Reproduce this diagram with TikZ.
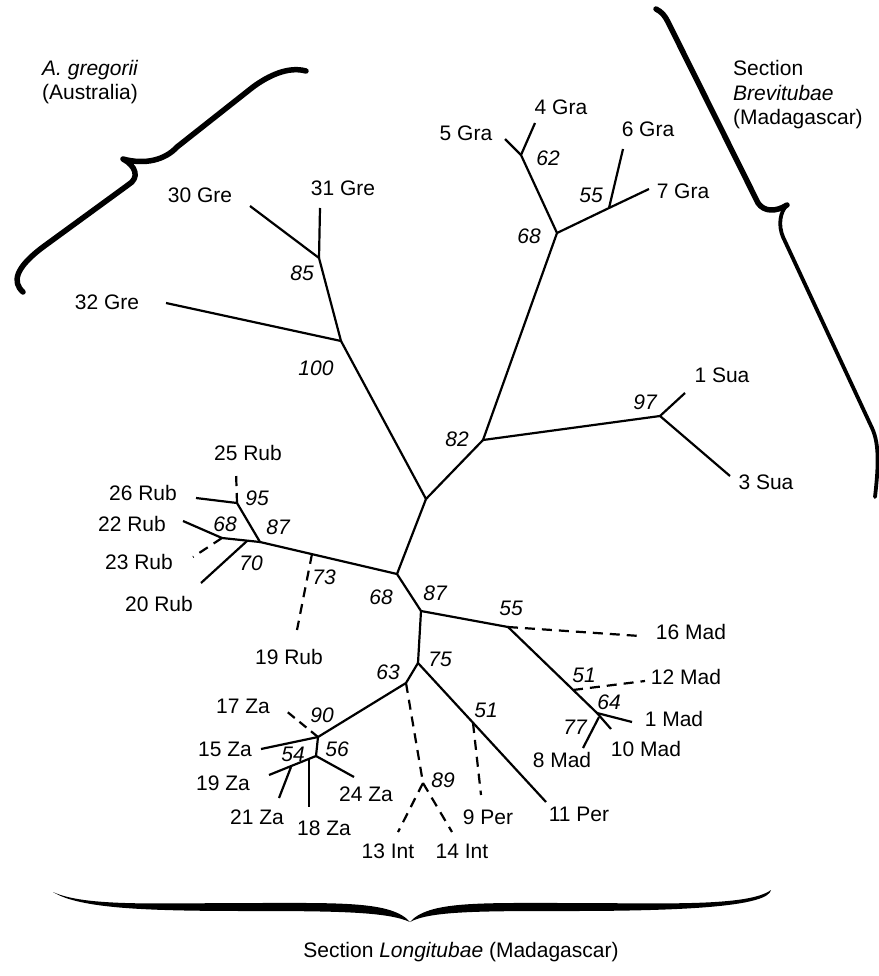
\documentclass[tikz,border=0pt]{standalone}
\usepackage{fontspec}
\setmainfont{Liberation Sans}
\newcommand\labfont{\fontsize{21}{25}\selectfont}
\begin{document}
\begin{tikzpicture}[x=1pt,y=-1pt,
  br/.style={line width=2.2pt},
  db/.style={line width=2.2pt, dash pattern=on 10pt off 7pt},
  lab/.style={font=\labfont, inner sep=0pt, text height=15pt, text depth=0pt},
  bs/.style={lab, font=\labfont\itshape},
  bracepath/.style={line width=5.5pt, line cap=round, line join=round}]
\useasboundingbox (0,0) rectangle (878,976);
% ---- coordinates of tree nodes
\coordinate (c) at (426,499);
\coordinate (n100) at (341,341);
\coordinate (n85) at (319,258);
\coordinate (t30) at (250,206);
\coordinate (t31) at (320,208);
\coordinate (t32) at (166,303);
\coordinate (n82) at (483,440);
\coordinate (n68g) at (557,233);
\coordinate (n62) at (521,155);
\coordinate (t4) at (535,123);
\coordinate (t5) at (505,139);
\coordinate (n55g) at (609,208);
\coordinate (t6) at (623,149);
\coordinate (t7) at (649,189);
\coordinate (n97) at (660,416);
\coordinate (t1s) at (685,393);
\coordinate (t3s) at (730,476);
\coordinate (n68) at (397,574);
\coordinate (n87r) at (260,542);
\coordinate (n73) at (312,554);
\coordinate (t19r) at (297,630);
\coordinate (n95) at (237,503);
\coordinate (t25) at (236,471);
\coordinate (t26) at (196,498);
\coordinate (n70) at (247,541);
\coordinate (n68r) at (222,538);
\coordinate (t22) at (183,521);
\coordinate (t23) at (193,557);
\coordinate (t20) at (201,583);
\coordinate (n87) at (421,611);
\coordinate (n55m) at (508,627);
\coordinate (t16) at (640,636);
\coordinate (n64) at (597,713);
\coordinate (n51m) at (573,690);
\coordinate (t12) at (645,681);
\coordinate (t1m) at (632,722);
\coordinate (t10) at (611,729);
\coordinate (n77) at (599,717);
\coordinate (t8) at (583,748);
\coordinate (n75) at (418,663);
\coordinate (n51p) at (473,723);
\coordinate (t11) at (546,802);
\coordinate (t9) at (481,795);
\coordinate (n63) at (406,683);
\coordinate (n89) at (423,783);
\coordinate (t13) at (398,832);
\coordinate (t14) at (452,832);
\coordinate (n90) at (318,737);
\coordinate (t15) at (261,749);
\coordinate (t17) at (285,710);
\coordinate (n56) at (316,756);
\coordinate (t24) at (354,777);
\coordinate (pA) at (309,759);
\coordinate (t18) at (309,807);
\coordinate (n54) at (291,767);
\coordinate (t19z) at (269,775);
\coordinate (t21) at (279,798);
% ---- solid branches
\draw[br] (c) -- (n100) -- (n85) -- (t30);
\draw[br] (n85) -- (t31);
\draw[br] (n100) -- (t32);
\draw[br] (c) -- (n82) -- (n68g) -- (n62) -- (t4);
\draw[br] (n62) -- (t5);
\draw[br] (n68g) -- (n55g) -- (t6);
\draw[br] (n55g) -- (t7);
\draw[br] (n82) -- (n97) -- (t1s);
\draw[br] (n97) -- (t3s);
\draw[br] (c) -- (n68) -- (n87r) -- (n95) -- (t26);
\draw[br] (n87r) -- (n68r) -- (t22);
\draw[br] (n70) -- (t20);
\draw[br] (n68) -- (n87) -- (n55m) -- (n64) -- (t1m);
\draw[br] (n64) -- (t10);
\draw[br] (n77) -- (t8);
\draw[br] (n87) -- (n75) -- (t11);
\draw[br] (n75) -- (n63) -- (n90) -- (t15);
\draw[br] (n90) -- (n56) -- (t19z);
\draw[br] (pA) -- (t18);
\draw[br] (n54) -- (t21);
\draw[br] (n56) -- (t24);
% ---- dashed branches
\draw[db] (n95) -- (t25);
\draw[db] (n68r) -- (t23);
\draw[db] (n73) -- (t19r);
\draw[db] (n55m) -- (t16);
\draw[db] (n51m) -- (t12);
\draw[db] (n51p) -- (t9);
\draw[db] (n63) -- (n89);
\draw[db] (n89) -- (t13);
\draw[db] (n89) -- (t14);
\draw[br, dash pattern=on 9pt off 6pt] (n90) -- (t17);
% ---- leaf labels
\node[lab] (l30) at (200,195) {30 Gre};
\node[lab] (l31) at (343,188) {31 Gre};
\node[lab] (l32) at (107,302) {32 Gre};
\node[lab] (l4) at (561,107) {4 Gra};
\node[lab] (l5) at (466,133) {5 Gra};
\node[lab] (l6) at (648,129) {6 Gra};
\node[lab] (l7) at (683,191) {7 Gra};
\node[lab] (l1s) at (722,375) {1 Sua};
\node[lab] (l3s) at (766,482) {3 Sua};
\node[lab] (l25) at (248,453) {25 Rub};
\node[lab] (l26) at (143,493) {26 Rub};
\node[lab] (l22) at (132,524) {22 Rub};
\node[lab] (l23) at (139,562) {23 Rub};
\node[lab] (l20) at (159,604) {20 Rub};
\node[lab] (l19r) at (289,657) {19 Rub};
\node[lab] (l16) at (691,632) {16 Mad};
\node[lab] (l12) at (686,677) {12 Mad};
\node[lab] (l1m) at (674,719) {1 Mad};
\node[lab] (l10) at (646,749) {10 Mad};
\node[lab] (l8) at (562,760) {8 Mad};
\node[lab] (l9) at (488,817) {9 Per};
\node[lab] (l11) at (579,814) {11 Per};
\node[lab] (l13) at (388,851) {13 Int};
\node[lab] (l14) at (462,851) {14 Int};
\node[lab] (l17) at (243,706) {17 Za};
\node[lab] (l15) at (225,749) {15 Za};
\node[lab] (l19z) at (223,783) {19 Za};
\node[lab] (l24) at (366,794) {24 Za};
\node[lab] (l21) at (257,817) {21 Za};
\node[lab] (l18) at (324,828) {18 Za};
% ---- bootstrap values
\node[bs] (b85) at (302,273) {85};
\node[bs] (b100) at (316,368) {100};
\node[bs] (b62) at (548,158) {62};
\node[bs] (b55g) at (591,195) {55};
\node[bs] (b68g) at (529,236) {68};
\node[bs] (b97) at (645,402) {97};
\node[bs] (b82) at (457,439) {82};
\node[bs] (b95) at (257,498) {95};
\node[bs] (b87r) at (278,527) {87};
\node[bs] (b68r) at (225,524) {68};
\node[bs] (b70) at (251,563) {70};
\node[bs] (b73) at (324,577) {73};
\node[bs] (b68) at (381,597) {68};
\node[bs] (b87) at (435,593) {87};
\node[bs] (b55m) at (511,608) {55};
\node[bs] (b51m) at (584,675) {51};
\node[bs] (b64) at (609,702) {64};
\node[bs] (b77) at (575,727) {77};
\node[bs] (b75) at (440,659) {75};
\node[bs] (b51p) at (486,710) {51};
\node[bs] (b63) at (388,672) {63};
\node[bs] (b89) at (443,780) {89};
\node[bs] (b90) at (322,715) {90};
\node[bs] (b54) at (293,754) {54};
\node[bs] (b56) at (337,749) {56};
% ---- group captions
\node[lab, anchor=west] (gA) at (42,68) {\itshape A. gregorii};
\node[font=\labfont, inner sep=0pt, anchor=base west] (gB) at (42,100) {(Australia)};
\node[lab, anchor=west] (sB1) at (733,68) {Section};
\node[lab, anchor=west] (sB2) at (733,93) {\itshape Brevitubae};
\node[font=\labfont, inner sep=0pt, anchor=base west] (sB3) at (733,125) {(Madagascar)};
\node[font=\labfont, inner sep=0pt, anchor=base] (sL) at (461,957) {Section \textit{Longitubae} (Madagascar)};
% ---- braces
\draw[bracepath] (306,71) .. controls (288,66) and (268,76) .. (253,87) -- (177,147)
  .. controls (165,160) and (145,165) .. (123,159)
  .. controls (136,166) and (140,178) .. (128,185) -- (43,247)
  .. controls (15,268) and (12,282) .. (23,292);
\draw[bracepath] (656,9) .. controls (662,12) and (665,16) .. (668,22) -- (758,203)
  .. controls (764,212) and (776,212) .. (787,205);
\draw[line width=3.8pt, line cap=round, line join=round] (787,205)
  .. controls (780,212) and (778,225) .. (783,237) -- (872,428)
  .. controls (880,445) and (878,470) .. (875,497);
\fill (53,892) .. controls (85,907) and (160,903) .. (250,903)
  .. controls (340,903) and (392,901) .. (410,922)
  .. controls (388,912) and (340,911) .. (250,911)
  .. controls (150,911) and (80,909) .. (53,892) -- cycle;
\fill (410,922) .. controls (428,901) and (480,903) .. (570,903)
  .. controls (660,903) and (748,907) .. (771,890)
  .. controls (768,905) and (700,911) .. (570,911)
  .. controls (480,911) and (430,911) .. (410,922) -- cycle;
\end{tikzpicture}
\end{document}
